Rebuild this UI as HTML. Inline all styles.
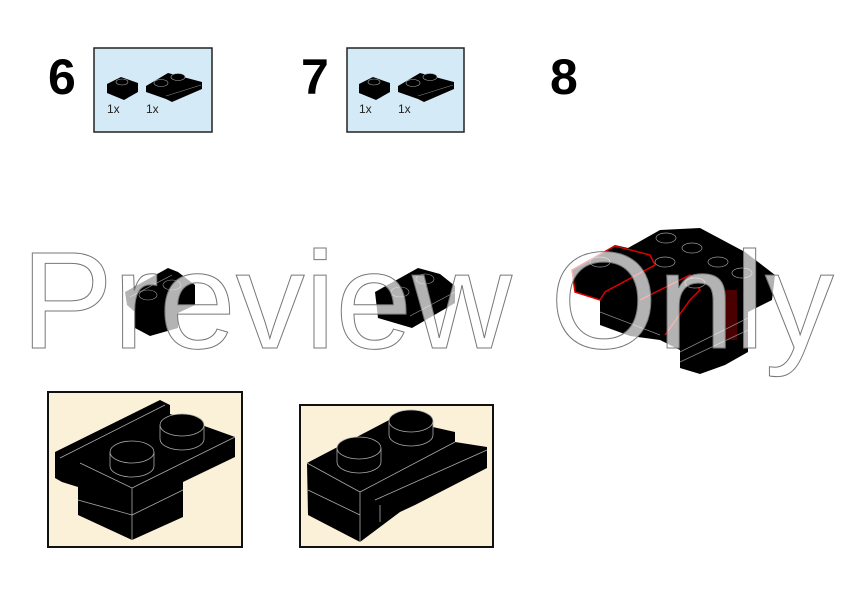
<!DOCTYPE html>
<html><head><meta charset="utf-8"><style>
html,body{margin:0;padding:0;background:#fff;}
svg{display:block;}
</style></head><body>
<svg width="842" height="596" viewBox="0 0 842 596" xmlns="http://www.w3.org/2000/svg">
<rect width="842" height="596" fill="#fff"/>
<g font-family="Liberation Sans, sans-serif" font-weight="bold" font-size="50" fill="#000">
<text x="48" y="94">6</text>
<text x="301" y="94">7</text>
<text x="550" y="94">8</text>
</g>
<rect x="94" y="48" width="118" height="84" fill="#d4ebf7" stroke="#222" stroke-width="1.5"/>
<rect x="347" y="48" width="117" height="84" fill="#d4ebf7" stroke="#222" stroke-width="1.5"/>
<g id="parts">
<path d="M107,84 L121,77 L138,83 L138,92 L124,100 L107,93 Z" fill="#000"/>
<ellipse cx="122" cy="82" rx="6" ry="3" fill="#000" stroke="#aaa" stroke-width="0.6"/>
<path d="M146,86 L168,73 L202,82 L202,89 L172,102 L166,99 L146,92 Z" fill="#000"/>
<ellipse cx="161" cy="83" rx="7" ry="3.5" fill="#000" stroke="#aaa" stroke-width="0.6"/>
<ellipse cx="178" cy="77" rx="7" ry="3.5" fill="#000" stroke="#aaa" stroke-width="0.6"/>
<line x1="166" y1="96" x2="201" y2="85" stroke="#888" stroke-width="0.6"/>
</g>
<use href="#parts" x="252" y="0"/>
<g font-family="Liberation Sans, sans-serif" font-size="12" fill="#222">
<text x="107" y="113">1x</text><text x="146" y="113">1x</text>
<text x="359" y="113">1x</text><text x="398" y="113">1x</text>
</g>
<path d="M125,292 L168,268 L178,272 L195,285 L195,305 L178,313 L178,328 L150,336 L135,328 L135,312 L127,305 Z" fill="#000"/>
<line x1="130" y1="297" x2="172" y2="275" stroke="#999" stroke-width="0.7"/>
<ellipse cx="148" cy="295" rx="9" ry="5" fill="#000" stroke="#999" stroke-width="0.6"/>
<ellipse cx="172" cy="285" rx="9" ry="5" fill="#000" stroke="#999" stroke-width="0.6"/>
<path d="M375,292 L418,268 L440,274 L455,286 L455,303 L412,328 L378,318 Z" fill="#000"/>
<ellipse cx="400" cy="292" rx="9" ry="5" fill="#000" stroke="#999" stroke-width="0.6"/>
<ellipse cx="425" cy="279" rx="9" ry="5" fill="#000" stroke="#999" stroke-width="0.6"/>
<line x1="410" y1="316" x2="455" y2="292" stroke="#999" stroke-width="0.7"/>
<path d="M572,270 L615,245 L628,248 L660,230 L700,228 L745,252 L775,275 L772,300 L748,312 L748,352 L725,365 L700,374 L680,368 L680,350 L660,340 L630,336 L600,325 L600,300 L575,292 Z" fill="#000"/>
<path d="M572,270 L615,246 L650,255 L655,265 L605,292 L600,300 L575,292 Z" fill="none" stroke="#d00" stroke-width="1.5"/>
<path d="M640,300 L690,275 L700,290 L690,300 L665,335" fill="none" stroke="#d00" stroke-width="1.5"/>
<rect x="725" y="290" width="12" height="50" fill="#6a0000" opacity="0.7"/>
<g fill="#000" stroke="#999" stroke-width="0.7">
<ellipse cx="666" cy="238" rx="10" ry="5"/><ellipse cx="692" cy="248" rx="10" ry="5"/>
<ellipse cx="718" cy="262" rx="10" ry="5"/><ellipse cx="742" cy="273" rx="10" ry="5"/>
<ellipse cx="600" cy="262" rx="10" ry="5"/><ellipse cx="665" cy="262" rx="10" ry="5"/>
<ellipse cx="695" cy="283" rx="10" ry="5"/>
</g>
<g stroke="#888" stroke-width="0.7">
<line x1="680" y1="352" x2="748" y2="318"/><line x1="680" y1="362" x2="748" y2="330"/>
<line x1="600" y1="312" x2="660" y2="335"/>
</g>
<rect x="48" y="392" width="194" height="155" fill="#fbf0d8" stroke="#111" stroke-width="2"/>
<rect x="300" y="405" width="193" height="142" fill="#fbf0d8" stroke="#111" stroke-width="2"/>
<path d="M55,452 L160,400 L170,405 L170,414 L210,428 L235,437 L235,457 L183,482 L183,517 L132,540 L78,515 L78,487 L62,482 L55,478 Z" fill="#000"/>
<g fill="none" stroke="#aaa" stroke-width="0.8">
<line x1="60" y1="458" x2="165" y2="405"/><line x1="80" y1="463" x2="132" y2="488"/>
<line x1="132" y1="488" x2="235" y2="437"/><line x1="132" y1="488" x2="132" y2="540"/>
<line x1="78" y1="500" x2="132" y2="515"/><line x1="132" y1="515" x2="183" y2="490"/>
</g>
<g fill="#000" stroke="#aaa" stroke-width="0.8">
<path d="M110,452 v14 a22,11 0 0 0 44,0 v-14"/><ellipse cx="132" cy="452" rx="22" ry="11"/>
<path d="M160,425 v14 a22,11 0 0 0 44,0 v-14"/><ellipse cx="182" cy="425" rx="22" ry="11"/>
</g>
<path d="M307,463 L393,418 L455,432 L455,442 L487,447 L487,468 L415,505 L400,512 L360,542 L308,515 Z" fill="#000"/>
<g fill="none" stroke="#aaa" stroke-width="0.8">
<line x1="307" y1="463" x2="360" y2="492"/><line x1="360" y1="492" x2="360" y2="542"/>
<line x1="360" y1="492" x2="455" y2="442"/><line x1="308" y1="490" x2="360" y2="515"/>
<line x1="375" y1="500" x2="487" y2="450"/><line x1="380" y1="505" x2="380" y2="522"/>
</g>
<g fill="#000" stroke="#aaa" stroke-width="0.8">
<path d="M337,448 v14 a22,11 0 0 0 44,0 v-14"/><ellipse cx="359" cy="448" rx="22" ry="11"/>
<path d="M389,421 v14 a22,11 0 0 0 44,0 v-14"/><ellipse cx="411" cy="421" rx="22" ry="11"/>
</g>
<text x="21" y="348" font-family="Liberation Sans, sans-serif" font-size="138" fill="#fff" fill-opacity="0.7" stroke="#777" stroke-width="1">Preview Only</text>
</svg>
</body></html>
